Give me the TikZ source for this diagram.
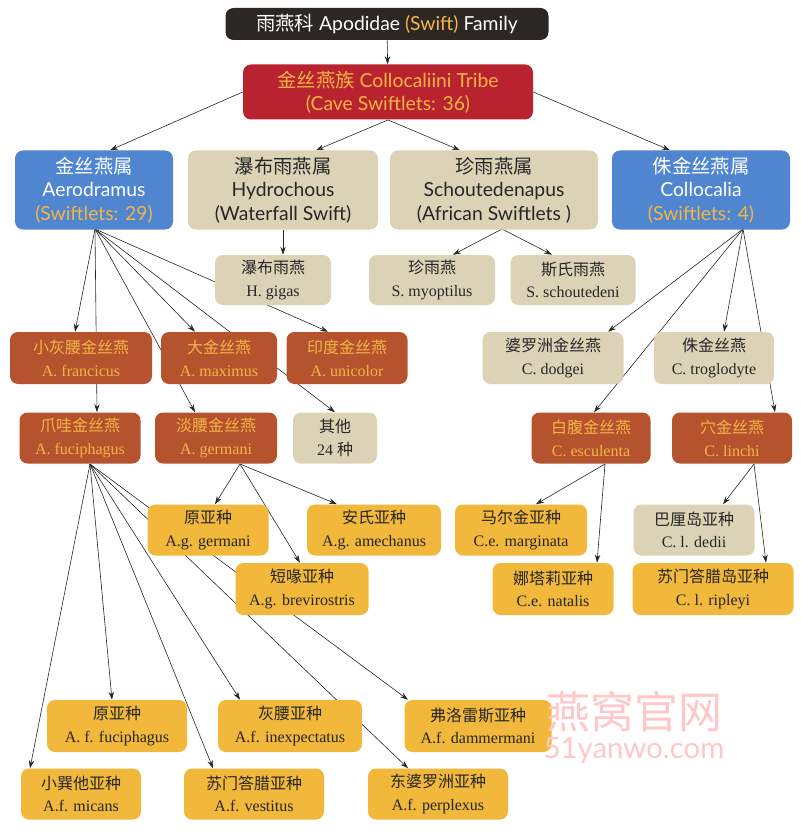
\documentclass[tikz,border=0pt]{standalone}
\usepackage{fontspec}
\setmainfont{Liberation Serif}
\newfontfamily\sansf{Lato}
\newfontfamily\cjk{Noto Sans CJK SC}
\usetikzlibrary{arrows.meta,backgrounds}
\definecolor{blk}{HTML}{2B2725}
\definecolor{redb}{HTML}{B8232F}
\definecolor{blueb}{HTML}{4F86CF}
\definecolor{tanb}{HTML}{DCD3B7}
\definecolor{rust}{HTML}{B5532F}
\definecolor{gold}{HTML}{F2B83C}
\definecolor{ortx}{HTML}{F4B545}
\begin{document}
\begin{tikzpicture}[x=0.75pt,y=-0.75pt,
 sz/.style 2 args={minimum width=#1*0.75pt,minimum height=#2*0.75pt},
 box/.style={rectangle,rounded corners=6pt,inner sep=0pt,align=center},
 big/.style={box,font=\sansf\fontsize{14.5}{17.5}\selectfont},
 small/.style={box,font=\fontsize{12}{17}\selectfont},
 topbox/.style={big,fill=blk,text=white},
 tribebox/.style={big,fill=redb,text=ortx},
 bluebox/.style={big,fill=blueb,text=white},
 tanbig/.style={big,fill=tanb,text=black!85},
 tanbox/.style={small,fill=tanb,text=black!85},
 rustbox/.style={small,fill=rust,text=ortx},
 goldbox/.style={small,fill=gold,text=black!85},
 edge/.style={draw=black!85,line width=0.45pt,-{Stealth[length=6pt,width=4pt]}}]
\useasboundingbox (0,0) rectangle (800,838);
% nodes
\node[topbox,sz={323}{32}] (fam) at (387,24) {{\cjk 雨燕科} Apodidae {\color{ortx}(Swift)} Family};
\node[tribebox,sz={290}{55}] (tribe) at (388,92) {{\cjk 金丝燕族} Collocaliini Tribe\\(Cave Swiftlets: 36)};
\node[bluebox,sz={158}{79}] (aero) at (94,190) {{\cjk 金丝燕属}\\Aerodramus\\{\color{ortx}(Swiftlets: 29)}};
\node[tanbig,sz={190}{79}] (hydro) at (283,190) {{\cjk 瀑布雨燕属}\\Hydrochous\\(Waterfall Swift)};
\node[tanbig,sz={208}{79}] (schout) at (494,190) {{\cjk 珍雨燕属}\\Schoutedenapus\\(African Swiftlets )};
\node[bluebox,sz={178}{79}] (coll) at (701,190) {{\cjk 侏金丝燕属}\\Collocalia\\{\color{ortx}(Swiftlets: 4)}};
\node[tanbox,sz={116}{50}] (gigas) at (273,280) {{\cjk 瀑布雨燕}\\H. gigas};
\node[tanbox,sz={126}{50}] (myop) at (432,280) {{\cjk 珍雨燕}\\S. myoptilus};
\node[tanbox,sz={125}{50}] (schd) at (573,280) {{\cjk 斯氏雨燕}\\S. schoutedeni};
\node[rustbox,sz={142}{52}] (franc) at (81,358) {{\cjk 小灰腰金丝燕}\\A. francicus};
\node[rustbox,sz={116}{52}] (maxi) at (219,358) {{\cjk 大金丝燕}\\A. maximus};
\node[rustbox,sz={121}{52}] (unic) at (347,358) {{\cjk 印度金丝燕}\\A. unicolor};
\node[tanbox,sz={141}{52}] (dodg) at (553,358) {{\cjk 婆罗洲金丝燕}\\C. dodgei};
\node[tanbox,sz={120}{52}] (trog) at (714,358) {{\cjk 侏金丝燕}\\C. troglodyte};
\node[rustbox,sz={121}{51}] (fuci) at (80,438) {{\cjk 爪哇金丝燕}\\A. fuciphagus};
\node[rustbox,sz={122}{51}] (germ) at (216,438) {{\cjk 淡腰金丝燕}\\A. germani};
\node[tanbox,sz={84}{51}] (oth) at (335,438) {{\cjk 其他}\\24 {\cjk 种}};
\node[rustbox,sz={119}{51}] (escu) at (591,438) {{\cjk 白腹金丝燕}\\C. esculenta};
\node[rustbox,sz={120}{51}] (linc) at (732,438) {{\cjk 穴金丝燕}\\C. linchi};
\node[goldbox,sz={121}{51}] (agg) at (208,530) {{\cjk 原亚种}\\A.g. germani};
\node[goldbox,sz={134}{51}] (agam) at (374,530) {{\cjk 安氏亚种}\\A.g. amechanus};
\node[goldbox,sz={132}{51}] (cem) at (521,530) {{\cjk 马尔金亚种}\\C.e. marginata};
\node[tanbox,sz={121}{51}] (cld) at (694,530) {{\cjk 巴厘岛亚种}\\C. l. dedii};
\node[goldbox,sz={133}{52}] (agb) at (302,589) {{\cjk 短喙亚种}\\A.g. brevirostris};
\node[goldbox,sz={121}{52}] (cen) at (553,589) {{\cjk 娜塔莉亚种}\\C.e. natalis};
\node[goldbox,sz={161}{52}] (clr) at (713,589) {{\cjk 苏门答腊岛亚种}\\C. l. ripleyi};
\node[goldbox,sz={140}{52}] (aff) at (117,726) {{\cjk 原亚种}\\A. f. fuciphagus};
\node[goldbox,sz={144}{52}] (afi) at (290,726) {{\cjk 灰腰亚种}\\A.f. inexpectatus};
\node[goldbox,sz={147}{52}] (afd) at (478,726) {{\cjk 弗洛雷斯亚种}\\A.f. dammermani};
\node[goldbox,sz={120}{51}] (afm) at (81,794) {{\cjk 小巽他亚种}\\A.f. micans};
\node[goldbox,sz={140}{51}] (afv) at (254,794) {{\cjk 苏门答腊亚种}\\A.f. vestitus};
\node[goldbox,sz={140}{51}] (afp) at (438,794) {{\cjk 东婆罗洲亚种}\\A.f. perplexus};
\node[text=red!22,font=\cjk\fontsize{33}{36}\selectfont] (wm1) at (634,712) {燕窝官网};
\node[text=red!22,font=\sansf\fontsize{22}{24}\selectfont] (wm2) at (634,750) {51yanwo.com};
% hubs
\coordinate (tribeB) at (388,120);
\coordinate (aeroO) at (95,229);
\coordinate (collO) at (743,229);
\coordinate (schO) at (502,229);
\coordinate (germO) at (240,464);
\coordinate (escO) at (605,464);
\coordinate (linO) at (754,464);
\coordinate (fuO) at (90,464);
\begin{scope}[on background layer]
\draw[edge] (fam) -- (tribe);
\draw[edge] (tribe.west) -- ([xshift=12pt]aero.north);
\draw[edge] (tribeB) -- ([xshift=24.75pt]hydro.north);
\draw[edge] (tribeB) -- ([xshift=-25.5pt]schout.north);
\draw[edge] (tribe.east) -- ([xshift=-23.25pt]coll.north);
\draw[edge] (hydro.south) -- (hydro.south |- gigas.north);
\draw[edge] (schO) -- ([xshift=15.75pt]myop.north);
\draw[edge] (schO) -- ([xshift=-15.75pt]schd.north);
\draw[edge] (aeroO) -- ([xshift=-4.5pt]franc.north);
\draw[edge] (aeroO) -- ([xshift=12.75pt]fuci.north);
\draw[edge] (aeroO) -- ([xshift=-18pt]maxi.north);
\draw[edge] (aeroO) -- ([xshift=-15.75pt]germ.north);
\draw[edge] (aeroO) -- ([xshift=-14.25pt]unic.north);
\draw[edge] (aeroO) -- (oth.north);
\draw[edge] (collO) -- ([xshift=41.25pt]dodg.north);
\draw[edge] (collO) -- ([xshift=7.5pt]trog.north);
\draw[edge] (collO) -- ([xshift=2.25pt]escu.north);
\draw[edge] (collO) -- ([xshift=32.25pt]linc.north);
\draw[edge] (germO) -- ([xshift=5.25pt]agg.north);
\draw[edge] (germO) -- ([xshift=-27.75pt]agam.north);
\draw[edge] (germO) -- ([xshift=-1.5pt]agb.north);
\draw[edge] (escO) -- ([xshift=11.25pt]cem.north);
\draw[edge] (escO) -- ([xshift=33pt]cen.north);
\draw[edge] (linO) -- ([xshift=21.75pt]cld.north);
\draw[edge] (linO) -- ([xshift=39.75pt]clr.north);
\draw[edge] (fuO) -- ([xshift=-38.25pt]afm.north);
\draw[edge] (fuO) -- ([xshift=-3.75pt]aff.north);
\draw[edge] (fuO) -- ([xshift=-30.75pt]afv.north);
\draw[edge] (fuO) -- ([xshift=-37.5pt]afi.north);
\draw[edge] (fuO) -- ([xshift=-22.5pt]afp.north);
\draw[edge] (fuO) -- ([xshift=-52.5pt]afd.north);
\end{scope}
\end{tikzpicture}
\end{document}
